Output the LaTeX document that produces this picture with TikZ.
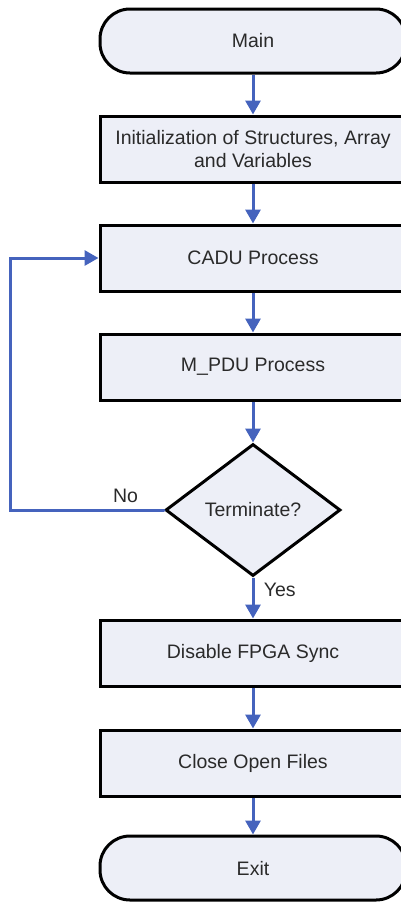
\documentclass[tikz,border=0pt]{standalone}
\usepackage{fontspec}
\setmainfont{Liberation Sans}
\usepackage{tikz}
\usepackage{xcolor}
\usetikzlibrary{arrows.meta, positioning, shapes.geometric}

\definecolor{boxfill}{HTML}{EDEFF7}
\definecolor{flowblue}{HTML}{4563BD}
\definecolor{textgray}{HTML}{2A2A2A}

\begin{document}
\begin{tikzpicture}[
        font=\fontsize{19.5}{23}\selectfont,
        text=textgray,
        node distance=40pt,
        process/.style={draw, line width=3pt, fill=boxfill, rectangle,
            minimum width=306pt, minimum height=66pt, align=center, inner sep=2pt},
        terminal/.style={draw, line width=3pt, fill=boxfill, rectangle, rounded corners=30pt,
            minimum width=306pt, minimum height=64pt, inner sep=2pt},
        decision/.style={draw, line width=3pt, fill=boxfill, diamond, aspect=1.33,
            minimum width=175pt, minimum height=132pt, inner sep=0pt},
        flow/.style={draw=flowblue, line width=3pt, -{Triangle[length=14pt, width=15pt]}}
    ]
        \useasboundingbox (0pt, 0pt) rectangle (401pt, -903pt);

        % Start
        \node[terminal] (main) at (253pt, -41pt) {Main};

        % Processing steps
        \node[process, below=of main] (init) {Initialization of Structures, Array\\and Variables};
        \node[process, below=of init] (cadu) {CADU Process};
        \node[process, below=of cadu] (mpdu) {M\_PDU Process};

        % Decision
        \node[decision, below=41pt of mpdu] (term) {Terminate?};

        % Shutdown steps
        \node[process, below=41pt of term] (fpga) {Disable FPGA Sync};
        \node[process, below=41pt of fpga] (close) {Close Open Files};
        \node[terminal, below=37pt of close] (exit) {Exit};

        % Flow arrows
        \draw[flow] (main) -- (init);
        \draw[flow] (init) -- (cadu);
        \draw[flow] (cadu) -- (mpdu);
        \draw[flow] (mpdu) -- (term);
        \draw[flow] (term) -- node[right, pos=0.3, xshift=6pt] {Yes} (fpga);
        \draw[flow] (fpga) -- (close);
        \draw[flow] (close) -- (exit);

        % Loop back
        \draw[flow, line cap=round] (term.west) -- node[above, pos=0.25, yshift=2pt] {No} ++(-154pt, 0) |- (cadu.west);
    \end{tikzpicture}
\end{document}
